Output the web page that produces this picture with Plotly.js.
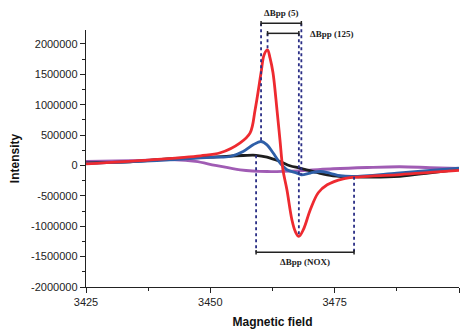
<!DOCTYPE html>
<html><head><meta charset="utf-8">
<script src="https://cdn.plot.ly/plotly-3.0.1.min.js"></script>
<style>html,body{margin:0;padding:0;background:#fff}#chart{width:471px;height:333px}</style>
</head><body><div id="chart"></div>
<script>
// Magnetic field (G) and intensity per sample
const redField = [3425,3438,3448,3452,3456,3458,3459,3460.2,3460.8,3461.5,3462,3462.6,3463.4,3464,3464.6,3465.4,3466.4,3467.1,3467.8,3468.7,3470.1,3471.7,3473.5,3476.7,3480.1,3487.5,3494.2,3500];
const redVal = [28000,94000,160000,209000,373000,538000,915000,1525000,1820000,1903000,1770000,1525000,916000,423000,-70000,-400000,-893000,-1090000,-1168000,-1057000,-729000,-449000,-317000,-219000,-186000,-153000,-112000,-82000];

const blueField = [3425,3438,3450,3454,3456.6,3458.6,3460.2,3461.4,3462.6,3464,3465.4,3467.4,3468.3,3470.1,3472.1,3474.1,3476.1,3478.7,3487.5,3494.2,3500];
const blueVal = [36000,77000,135000,148000,230000,340000,395000,340000,209000,44000,-71000,-125000,-153000,-125000,-99000,-128000,-169000,-181000,-125000,-79000,-43000];

const blackField = [3425,3434,3443,3450,3456.6,3459.2,3461.4,3464,3466,3468,3471.4,3474.7,3478.9,3488.1,3494.2,3500];
const blackVal = [44000,60000,118000,138000,164000,168000,138000,66000,-5000,-43000,-115000,-169000,-186000,-178000,-120000,-62000];

const purpleField = [3425,3434,3443,3447,3451,3456,3461.4,3468,3474.7,3481.5,3488.1,3494.2,3500];
const purpleVal = [69000,80000,94000,66000,3000,-71000,-99000,-87000,-54000,-33000,-21000,-35000,-46000];

const xTicks = [3425,3450,3475,3500];
const yTicks = [-2000000,-1500000,-1000000,-500000,0,500000,1000000,1500000,2000000];

const Y0 = -2000000, Y1 = 2230000;
function pY(v){ return (v - Y0)/(Y1 - Y0); }
// global maximum, then first local minimum after it
function peak(xs, vs){ let k=0; for(let i=1;i<vs.length;i++){ if(vs[i]>vs[k]) k=i; } return k; }
function troughAfter(vs, k){ let j=k; while(j+1<vs.length && vs[j+1]<=vs[j]) j++; return j; }
function extrema(xs, vs){ const k=peak(xs,vs), j=troughAfter(vs,k); return {max:[xs[k],vs[k]], min:[xs[j],vs[j]]}; }

const R = extrema(redField, redVal), B = extrema(blueField, blueVal), K = extrema(blackField, blackVal);

const lineW = 2.8;
const traces = [
  {x: purpleField, y: purpleVal, mode:'lines', line:{color:'#a05cb4', width:lineW, shape:'spline'}},
  {x: blackField, y: blackVal, mode:'lines', line:{color:'#1e1e1e', width:lineW, shape:'spline'}},
  {x: blueField, y: blueVal, mode:'lines', line:{color:'#2e5fa8', width:lineW, shape:'spline'}},
  {x: redField, y: redVal, mode:'lines', line:{color:'#ee2a30', width:lineW, shape:'spline'}}
];

const dot = {color:'#2b2f86', width:1.8, dash:'dot'};
const bar = {color:'#222', width:1.5};
const shapes = [];
function vline(x, yTop, yBot){ shapes.push({type:'line', xref:'x', yref:'paper', x0:x, x1:x, y0:yTop, y1:yBot, line:dot}); }
function hbar(xa, xb, y){
  shapes.push({type:'line', xref:'x', yref:'paper', x0:xa, x1:xb, y0:y, y1:y, line:bar});
  shapes.push({type:'line', xref:'x', yref:'paper', x0:xa, x1:xa, y0:y-0.009, y1:y+0.009, line:bar});
  shapes.push({type:'line', xref:'x', yref:'paper', x0:xb, x1:xb, y0:y-0.009, y1:y+0.009, line:bar});
}
const y5 = 1.026, y125 = 0.987, yNox = 0.135;
// ΔBpp (5): blue extrema
vline(B.max[0], y5, pY(B.max[1]));
vline(B.min[0], y5, pY(B.min[1]));
hbar(B.max[0], B.min[0], y5);
// ΔBpp (125): red extrema
vline(R.max[0], y125, pY(R.max[1]));
vline(R.min[0], y125, pY(R.min[1]));
hbar(R.max[0], R.min[0], y125);
// ΔBpp (NOX): black extrema
vline(K.max[0], pY(K.max[1]), yNox);
vline(K.min[0], pY(K.min[1]), yNox);
hbar(K.max[0], K.min[0], yNox);

const afont = {family:'"Liberation Serif","Times New Roman",serif', size:9, color:'#222'};
const annotations = [
  {text:'<b>ΔBpp (5)</b>', xref:'x', yref:'paper', x:(B.max[0]+B.min[0])/2, y:1.066, showarrow:false, font:afont, xanchor:'center', yanchor:'middle'},
  {text:'<b>ΔBpp (125)</b>', xref:'x', yref:'paper', x:R.min[0]+1.8, y:0.984, showarrow:false, font:afont, xanchor:'left', yanchor:'middle'},
  {text:'<b>ΔBpp (NOX)</b>', xref:'x', yref:'paper', x:(K.max[0]+K.min[0])/2, y:0.097, showarrow:false, font:afont, xanchor:'center', yanchor:'middle'}
];

const tfont = {family:'"Liberation Sans",Arial,sans-serif', size:11, color:'#222'};
const layout = {
  width:471, height:333,
  margin:{l:85.5, r:11.5, t:30, b:45.7, pad:0},
  paper_bgcolor:'#fff', plot_bgcolor:'#fff',
  showlegend:false,
  xaxis:{range:[3425,3500], tickvals:xTicks, ticktext:xTicks.map(String), ticks:'outside', ticklen:5, tickwidth:1, tickcolor:'#222',
    showline:true, linecolor:'#222', linewidth:1.2, showgrid:false, zeroline:false, tickfont:tfont,
    minor:{dtick:12.5, tick0:3425, ticks:'outside', ticklen:3, tickcolor:'#222', showgrid:false},
    title:{text:'<b>Magnetic field</b>', font:{family:'"Liberation Sans",Arial,sans-serif', size:12, color:'#111'}, standoff:10}},
  yaxis:{range:[Y0, Y1], tickvals:yTicks, ticktext:yTicks.map(String), ticks:'outside', ticklen:5, tickwidth:1, tickcolor:'#222',
    showline:true, linecolor:'#222', linewidth:1.2, showgrid:false, zeroline:false, tickfont:tfont,
    minor:{dtick:250000, tick0:0, ticks:'outside', ticklen:3, tickcolor:'#222', showgrid:false},
    title:{text:'<b>Intensity</b>', font:{family:'"Liberation Sans",Arial,sans-serif', size:12, color:'#111'}, standoff:8}},
  shapes: shapes,
  annotations: annotations
};
Plotly.newPlot('chart', traces, layout, {displayModeBar:false, staticPlot:true});
</script></body></html>
